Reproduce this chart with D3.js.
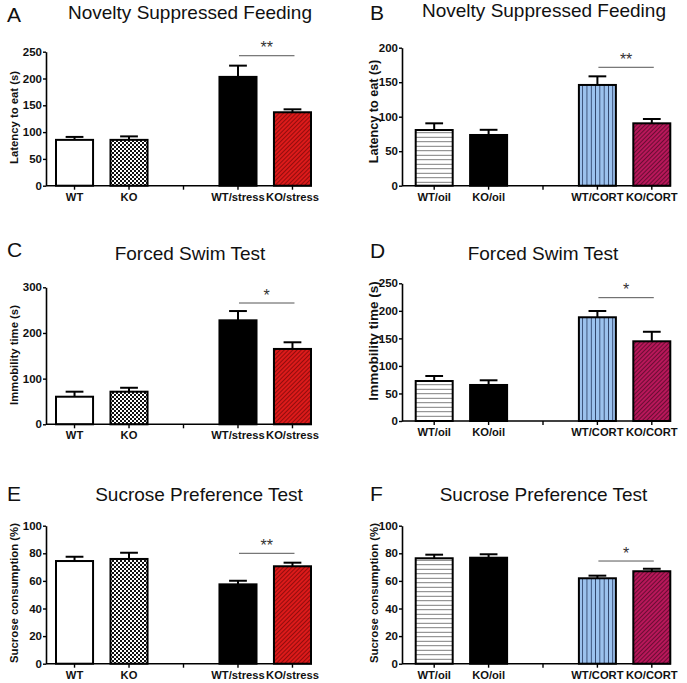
<!DOCTYPE html>
<html>
<head>
<meta charset="utf-8">
<script src="https://cdn.jsdelivr.net/npm/d3@7"></script>
<style>
  html, body { margin: 0; padding: 0; background: #fff; }
  svg { display: block; font-family: "Liberation Sans", Arial, Helvetica, sans-serif; }
</style>
</head>
<body>
<svg id="chart" width="687" height="683"></svg>
<script>
// ---------------- DATA ----------------
const catsStress = ["WT", "KO", "WT/stress", "KO/stress"];
const catsCort = ["WT/oil", "KO/oil", "WT/CORT", "KO/CORT"];

const titles = ["Novelty Suppressed Feeding", "Novelty Suppressed Feeding",
                "Forced Swim Test", "Forced Swim Test",
                "Sucrose Preference Test", "Sucrose Preference Test"];
const panelLetters = ["A", "B", "C", "D", "E", "F"];
const yLabels = ["Latency to eat (s)", "Latency to eat (s)",
                 "Immobility time (s)", "Immobility time (s)",
                 "Sucrose consumption (%)", "Sucrose consumption (%)"];

// Novelty suppressed feeding
const nsfStressMean = [85.5, 85.5, 203, 137];
const nsfStressSem  = [5.5, 6.5, 21, 5.5];
const nsfCortMean   = [80.7, 73.5, 146, 90.4];
const nsfCortSem    = [9.7, 7.5, 12.5, 6.3];
// Forced swim test
const fstStressMean = [60.4, 71.4, 227.7, 165];
const fstStressSem  = [11, 8.6, 20.3, 14.6];
const fstCortMean   = [72.6, 65.4, 188.3, 144.7];
const fstCortSem    = [9.1, 8.5, 11.4, 17.3];
// Sucrose preference test
const sptStressMean = [74.4, 75.9, 57.5, 70.6];
const sptStressSem  = [3.1, 4.5, 2.6, 2.6];
const sptCortMean   = [76.4, 76.8, 61.9, 67];
const sptCortSem    = [2.6, 2.5, 1.9, 1.8];

// y tick labels
const ticksNsfStress = [0, 50, 100, 150, 200, 250];
const ticksNsfCort   = [0, 50, 100, 150, 200];
const ticksFstStress = [0, 100, 200, 300];
const ticksFstCort   = [0, 50, 100, 150, 200, 250];
const ticksSpt       = [0, 20, 40, 60, 80, 100];

// significance annotations (label, level in data units between bars 3 and 4)
const sigLabels = ["**", "**", "*", "*", "**", "*"];
const sigLevels = [242.5, 171.6, 265.6, 223.9, 80, 74.4];

// ---------------- LAYOUT ----------------
const svg = d3.select("#chart");
svg.append("rect").attr("width", 687).attr("height", 683).attr("fill", "#fff");

const defs = svg.append("defs");
// checkerboard
const chk = defs.append("pattern").attr("id", "checker").attr("patternUnits", "userSpaceOnUse")
  .attr("width", 4).attr("height", 4);
chk.append("rect").attr("width", 4).attr("height", 4).attr("fill", "#fff");
chk.append("rect").attr("width", 2).attr("height", 2).attr("fill", "#111");
chk.append("rect").attr("x", 2).attr("y", 2).attr("width", 2).attr("height", 2).attr("fill", "#111");
// diagonal hatch
function diagHatch(id, bg, fg, gap, w) {
  const p = defs.append("pattern").attr("id", id).attr("patternUnits", "userSpaceOnUse")
    .attr("width", gap).attr("height", gap).attr("patternTransform", "rotate(45)");
  p.append("rect").attr("width", gap).attr("height", gap).attr("fill", bg);
  p.append("line").attr("x1", gap / 2).attr("x2", gap / 2).attr("y1", 0).attr("y2", gap)
    .attr("stroke", fg).attr("stroke-width", w);
}
diagHatch("redHatch", "#dc1a1a", "#7a0808", 3, 0.75);
diagHatch("crimsonHatch", "#b8175a", "#560a2a", 3, 0.8);
// horizontal lines (WT/oil)
const hl = defs.append("pattern").attr("id", "hlines").attr("patternUnits", "userSpaceOnUse")
  .attr("width", 10).attr("height", 4.5);
hl.append("rect").attr("width", 10).attr("height", 4.5).attr("fill", "#fff");
hl.append("line").attr("x1", 0).attr("x2", 10).attr("y1", 2.25).attr("y2", 2.25)
  .attr("stroke", "#666").attr("stroke-width", 0.9);
// vertical lines on blue (WT/CORT)
const vl = defs.append("pattern").attr("id", "vlines").attr("patternUnits", "userSpaceOnUse")
  .attr("width", 4.3).attr("height", 10);
vl.append("rect").attr("width", 4.3).attr("height", 10).attr("fill", "#9cc2ee");
vl.append("line").attr("x1", 2.15).attr("x2", 2.15).attr("y1", 0).attr("y2", 10)
  .attr("stroke", "#2b3f66").attr("stroke-width", 0.9);

const fillsStress = ["#ffffff", "url(#checker)", "#000000", "url(#redHatch)"];
const fillsCort = ["url(#hlines)", "#000000", "url(#vlines)", "url(#crimsonHatch)"];

const L = { axisX: 46, bar0: 56, bar1: 311, xEnd: 312 };
const R = { axisX: 402, bar0: 415.7, bar1: 670.3, xEnd: 671 };

const panels = [
  { side: L, top: 51.7, bot: 185.7, cats: catsStress, mean: nsfStressMean, sem: nsfStressSem, ticks: ticksNsfStress, fills: fillsStress,
    titleX: 190, titleY: 19, letterX: 7, letterY: 22, labX: 17.5, labY: 117.5, labSize: 11.3 },
  { side: R, top: 47.7, bot: 185.7, cats: catsCort, mean: nsfCortMean, sem: nsfCortSem, ticks: ticksNsfCort, fills: fillsCort,
    titleX: 544, titleY: 17, letterX: 370, letterY: 20, labX: 377.5, labY: 111.5, labSize: 12.6 },
  { side: L, top: 287.3, bot: 424.3, cats: catsStress, mean: fstStressMean, sem: fstStressSem, ticks: ticksFstStress, fills: fillsStress,
    titleX: 190, titleY: 260, letterX: 7, letterY: 257, labX: 17.5, labY: 355, labSize: 11.3 },
  { side: R, top: 283.3, bot: 421, cats: catsCort, mean: fstCortMean, sem: fstCortSem, ticks: ticksFstCort, fills: fillsCort,
    titleX: 543, titleY: 260, letterX: 370, letterY: 258, labX: 378, labY: 341, labSize: 13.5 },
  { side: L, top: 525.7, bot: 663.7, cats: catsStress, mean: sptStressMean, sem: sptStressSem, ticks: ticksSpt, fills: fillsStress,
    titleX: 199, titleY: 501, letterX: 7, letterY: 501, labX: 17.5, labY: 593, labSize: 11.35 },
  { side: R, top: 525.7, bot: 663.7, cats: catsCort, mean: sptCortMean, sem: sptCortSem, ticks: ticksSpt, fills: fillsCort,
    titleX: 543.5, titleY: 501, letterX: 370, letterY: 501, labX: 377.5, labY: 593, labSize: 11.35 }
];

panels.forEach((p, i) => {
  const g = svg.append("g");
  const s = p.side;
  const slots = [p.cats[0], p.cats[1], " ", p.cats[2], p.cats[3]];
  const x = d3.scaleBand().domain(slots).range([s.bar0, s.bar1]).paddingInner(0.32).paddingOuter(0);
  const y = d3.scaleLinear().domain([0, d3.max(p.ticks)]).range([p.bot, p.top]);
  const data = p.cats.map((c, k) => ({ c, m: p.mean[k], e: p.sem[k], f: p.fills[k] }));

  // bars
  g.selectAll("rect.bar").data(data).join("rect")
    .attr("class", "bar")
    .attr("x", d => x(d.c))
    .attr("width", x.bandwidth())
    .attr("y", d => y(d.m))
    .attr("height", d => y(0) - y(d.m))
    .attr("fill", d => d.f)
    .attr("stroke", "#000").attr("stroke-width", 2);

  // error bars (upper only)
  const cap = x.bandwidth() * 0.48;
  g.selectAll("line.err").data(data).join("line")
    .attr("class", "err")
    .attr("x1", d => x(d.c) + x.bandwidth() / 2).attr("x2", d => x(d.c) + x.bandwidth() / 2)
    .attr("y1", d => y(d.m)).attr("y2", d => y(d.m + d.e))
    .attr("stroke", "#000").attr("stroke-width", 2);
  g.selectAll("line.cap").data(data).join("line")
    .attr("class", "cap")
    .attr("x1", d => x(d.c) + x.bandwidth() / 2 - cap / 2).attr("x2", d => x(d.c) + x.bandwidth() / 2 + cap / 2)
    .attr("y1", d => y(d.m + d.e)).attr("y2", d => y(d.m + d.e))
    .attr("stroke", "#000").attr("stroke-width", 2);

  // y axis
  const ya = g.append("g").attr("transform", `translate(${s.axisX},0)`)
    .call(d3.axisLeft(y).tickValues(p.ticks).tickFormat(d3.format("d")).tickSize(3).tickSizeOuter(0).tickPadding(1));
  ya.select(".domain").attr("stroke", "#000").attr("stroke-width", 1.6);
  ya.selectAll(".tick line").attr("stroke", "#000").attr("stroke-width", 1.4);
  ya.selectAll(".tick text").attr("font-size", 11.5).attr("font-weight", "bold").attr("fill", "#111")
    .attr("font-family", "'Liberation Sans', Arial, sans-serif");

  // x axis
  const xa = g.append("g").attr("transform", `translate(0,${p.bot})`)
    .call(d3.axisBottom(x).tickSize(4).tickSizeOuter(0).tickPadding(3));
  xa.select(".domain").remove();
  xa.append("line").attr("x1", s.axisX).attr("x2", s.xEnd).attr("y1", 0).attr("y2", 0)
    .attr("stroke", "#000").attr("stroke-width", 1.6);
  xa.selectAll(".tick line").attr("stroke", "#000").attr("stroke-width", 1.4);
  xa.selectAll(".tick text").attr("font-size", 11.2).attr("font-weight", "bold").attr("fill", "#111")
    .attr("font-family", "'Liberation Sans', Arial, sans-serif");

  // y label
  g.append("text")
    .attr("transform", `translate(${p.labX},${p.labY}) rotate(-90)`)
    .attr("text-anchor", "middle")
    .attr("font-size", p.labSize).attr("font-weight", "bold").attr("fill", "#111")
    .text(yLabels[i]);

  // title & letter
  g.append("text").attr("x", p.titleX).attr("y", p.titleY).attr("text-anchor", "middle")
    .attr("font-size", 19).attr("fill", "#111").text(titles[i]);
  g.append("text").attr("x", p.letterX).attr("y", p.letterY)
    .attr("font-size", 21).attr("fill", "#111").text(panelLetters[i]);

  // significance
  const c3 = x(p.cats[2]) + x.bandwidth() / 2 + 1;
  const c4 = x(p.cats[3]) + x.bandwidth() / 2 + 2;
  const sy = y(sigLevels[i]);
  g.append("line").attr("x1", c3).attr("x2", c4).attr("y1", sy).attr("y2", sy)
    .attr("stroke", "#555").attr("stroke-width", 1);
  g.append("text").attr("x", (c3 + c4) / 2).attr("y", sy - 2.5).attr("text-anchor", "middle")
    .attr("font-size", 16).attr("fill", "#333").text(sigLabels[i]);
});
</script>
</body>
</html>
